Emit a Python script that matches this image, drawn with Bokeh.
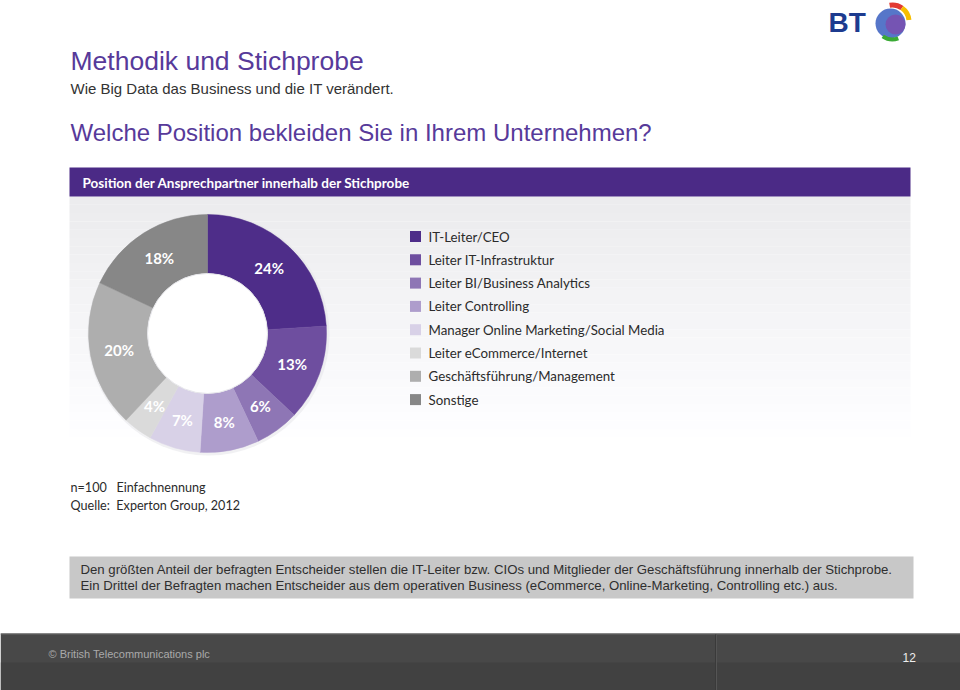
import math
from bokeh.plotting import figure
from bokeh.models import Range1d
from bokeh.core.properties import value
from bokeh.embed import file_html
from bokeh.resources import INLINE

W, H = 960, 690

title = "Methodik und Stichprobe"
subtitle = "Wie Big Data das Business und die IT verändert."
question = "Welche Position bekleiden Sie in Ihrem Unternehmen?"
panel_title = "Position der Ansprechpartner innerhalb der Stichprobe"
categories = ["IT-Leiter/CEO", "Leiter IT-Infrastruktur", "Leiter BI/Business Analytics",
              "Leiter Controlling", "Manager Online Marketing/Social Media",
              "Leiter eCommerce/Internet", "Geschäftsführung/Management", "Sonstige"]
shares = [24, 13, 6, 8, 7, 4, 20, 18]
colors = ["#4E2D89", "#6E4E9F", "#8E76B5", "#AE9DCC", "#D8D1E7", "#DADADA", "#AEAEAE", "#878787"]
notes = ["n=100\u00a0\u00a0\u00a0Einfachnennung", "Quelle:\u00a0\u00a0Experton Group, 2012"]
summary = ["Den größten Anteil der befragten Entscheider stellen die IT-Leiter bzw. CIOs und Mitglieder der Geschäftsführung innerhalb der Stichprobe.",
           "Ein Drittel der Befragten machen Entscheider aus dem operativen Business (eCommerce, Online-Marketing, Controlling etc.) aus."]
copyright_text = "© British Telecommunications plc"
page_no = "12"


def Y(py):
    return H - py


p = figure(width=W, height=H, x_range=Range1d(0, W), y_range=Range1d(0, H),
           output_backend="svg", toolbar_location=None, min_border=0,
           x_axis_location=None, y_axis_location=None)
p.grid.visible = False
p.outline_line_color = None
p.background_fill_color = "white"

SANS = value("Liberation Sans")
BTF = value("Lato")

# Titles
p.text(x=[70], y=[Y(60)], text=[title], text_font=SANS, text_font_size="26.5px",
       text_color="#573A9A", text_baseline="middle")
p.text(x=[70], y=[Y(88)], text=[subtitle], text_font=SANS, text_font_size="15px",
       text_color="#333333", text_baseline="middle")
p.text(x=[70], y=[Y(132)], text=[question], text_font=SANS, text_font_size="24px",
       text_color="#573A9A", text_baseline="middle")

# Panel background gradient
nb = 30
top, bot = 196, 445
for i in range(nb):
    t = i / (nb - 1)
    g = int(236 + (255 - 236) * t)
    p.quad(left=69, right=910, top=Y(top + (bot - top) * i / nb),
           bottom=Y(top + (bot - top) * (i + 1) / nb),
           fill_color=f"#{g:02x}{g:02x}{min(255, g + 2):02x}", line_color=None)

# Header bar
p.quad(left=69, right=910, top=Y(167), bottom=Y(196), fill_color="#4B2A86", line_color=None)
p.text(x=[82], y=[Y(182)], text=[panel_title], text_font=BTF, text_font_size="13.5px",
       text_font_style="bold", text_color="white", text_baseline="middle")

# Donut
cx, cy = 207, Y(333)
r_in, r_out = 60, 119
starts, ends, lx, ly, labels = [], [], [], [], []
cum = 0
total = sum(shares)
for s in shares:
    a0 = math.pi / 2 - 2 * math.pi * cum / total
    a1 = math.pi / 2 - 2 * math.pi * (cum + s) / total
    starts.append(a0)
    ends.append(a1)
    am = (a0 + a1) / 2
    lx.append(cx + 90 * math.cos(am))
    ly.append(cy + 90 * math.sin(am))
    labels.append(f"{s}%")
    cum += s

# soft shadow ring
p.circle(x=[cx + 1], y=[cy - 1], radius=r_out + 2, fill_color="#E4E4E8", fill_alpha=0.5, line_color=None)
p.annular_wedge(x=cx, y=cy, inner_radius=r_in, outer_radius=r_out,
                start_angle=starts, end_angle=ends, direction="clock",
                fill_color=colors, line_color=colors, line_width=0.5)
p.circle(x=[cx], y=[cy], radius=r_in, fill_color="white", line_color="#E6E6EA", line_width=1)
p.text(x=lx, y=ly, text=labels, text_font=BTF, text_font_size="15px", text_font_style="bold",
       text_color="white", text_align="center", text_baseline="middle")

# Legend
ly0 = 236
step = 23.3
leg_y = [Y(ly0 + i * step) for i in range(len(categories))]
p.scatter(x=[415] * len(categories), y=leg_y, marker="square", size=11,
          fill_color=colors, line_color=None)
p.text(x=[428] * len(categories), y=leg_y, text=categories, text_font=BTF,
       text_font_size="13.3px", text_color="#2B2B2B", text_baseline="middle")

# Notes
p.text(x=[70, 70], y=[Y(487), Y(505)], text=notes, text_font=BTF, text_font_size="12.6px",
       text_color="#2B2B2B", text_baseline="middle")

# Summary box
p.quad(left=69, right=913, top=Y(556), bottom=Y(598), fill_color="#C8C8C8", line_color=None)
p.text(x=[80, 80], y=[Y(569), Y(585)], text=summary, text_font=SANS, text_font_size="13.2px",
       text_color="#2E2E2E", text_baseline="middle")

# Footer
p.quad(left=0, right=W, top=Y(633), bottom=0, fill_color="#484848", line_color=None)
p.quad(left=0, right=W, top=Y(662), bottom=0, fill_color="#3A3A3A", fill_alpha=0.5, line_color=None)
p.segment(x0=0, y0=Y(633.5), x1=W, y1=Y(633.5), line_color="#6A6A6A", line_width=1)
p.segment(x0=715, y0=Y(634), x1=715, y1=0, line_color="#3A3A3A", line_width=1)
p.segment(x0=716, y0=Y(634), x1=716, y1=0, line_color="#555555", line_width=1)
p.text(x=[48], y=[Y(653)], text=[copyright_text], text_font=SANS, text_font_size="11px",
       text_color="#AAAAAA", text_baseline="middle")
p.text(x=[902], y=[Y(657)], text=[page_no], text_font=SANS, text_font_size="12px",
       text_color="#EEEEEE", text_baseline="middle")

# BT logo
p.text(x=[828], y=[Y(22)], text=["BT"], text_font=SANS, text_font_size="28px",
       text_font_style="bold", text_color="#1D3B8F", text_baseline="middle")
p.circle(x=[890], y=[Y(23)], radius=15, fill_color="#5676C9", line_color=None)
p.circle(x=[895], y=[Y(24)], radius=10, fill_color="#7A4FAF", fill_alpha=0.85, line_color=None)
p.annular_wedge(x=892, y=Y(21), inner_radius=14, outer_radius=19,
                start_angle=[math.radians(100), math.radians(55)],
                end_angle=[math.radians(55), math.radians(5)], direction="clock",
                fill_color=["#E23A33", "#F6BE00"], line_color=None)
p.annular_wedge(x=892, y=Y(22), inner_radius=15, outer_radius=19,
                start_angle=[math.radians(-70)], end_angle=[math.radians(-125)], direction="clock",
                fill_color=["#3AAA35"], line_color=None)

open("out.html", "w").write(file_html(p, INLINE))
